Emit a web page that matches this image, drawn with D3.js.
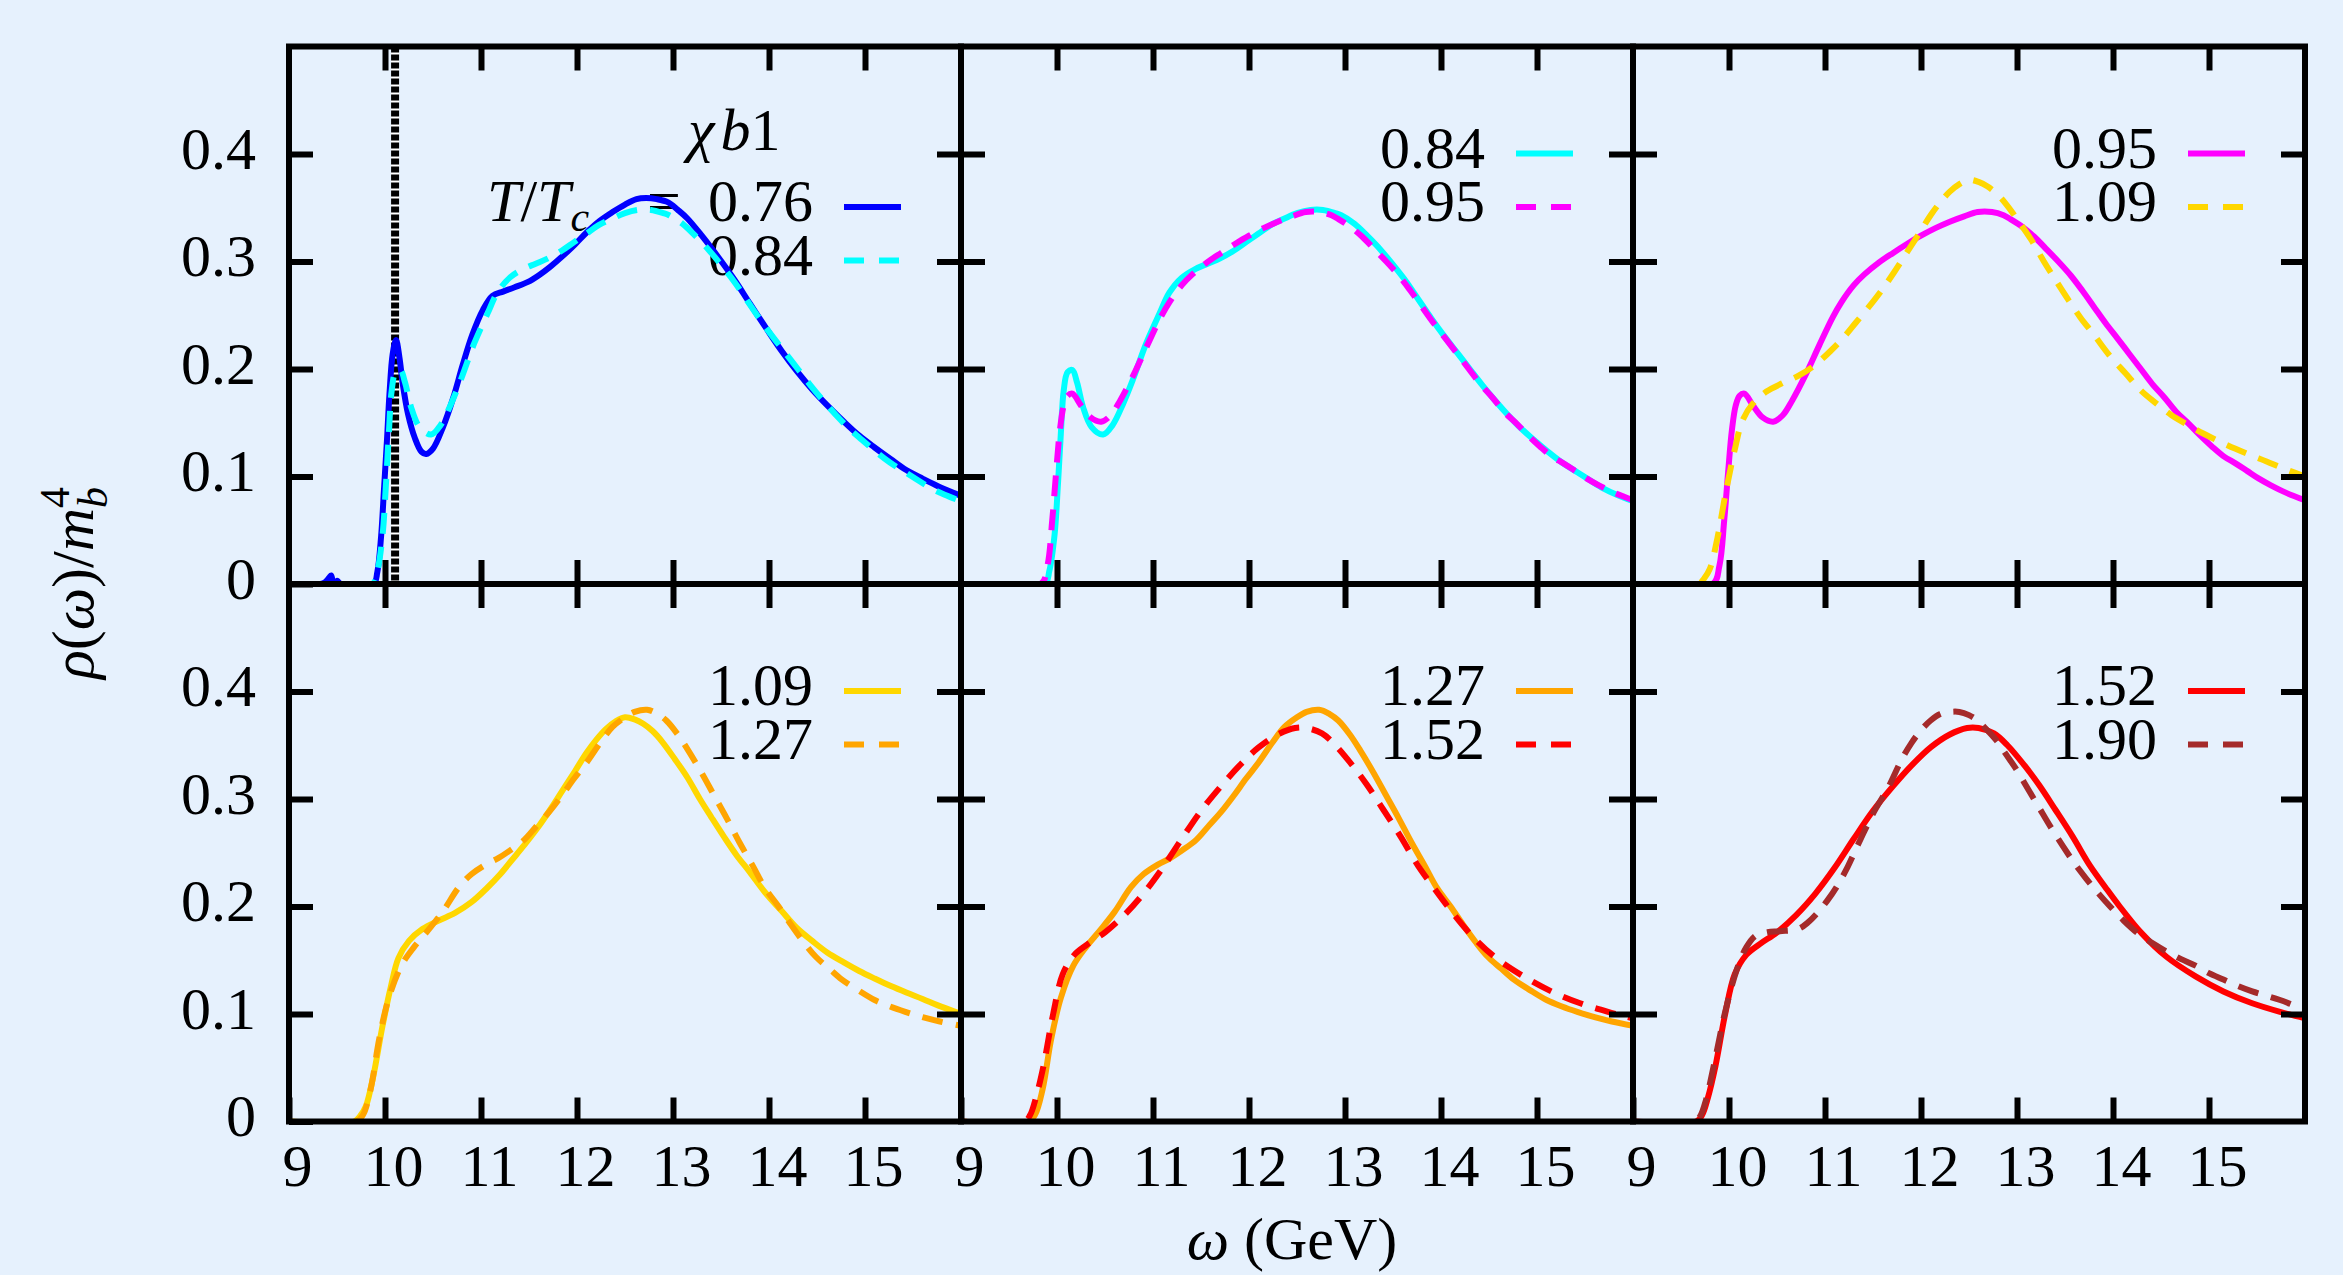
<!DOCTYPE html>
<html><head><meta charset="utf-8">
<script src="https://cdn.jsdelivr.net/npm/d3@7"></script>
<style>
html,body{margin:0;padding:0;background:#e6f1fd;}
svg{display:block;}
</style>
</head><body>
<svg id="chart" width="2343" height="1275"></svg>
<script>
// ---------------- DATA ----------------
const temperatures = ["0.76", "0.84", "0.95", "1.09", "1.27", "1.52", "1.90"];
const panelSolid  = ["0.76", "0.84", "0.95", "1.09", "1.27", "1.52"];
const panelDashed = ["0.84", "0.95", "1.09", "1.27", "1.52", "1.90"];
const xTickValues = [9, 10, 11, 12, 13, 14, 15];
const xTickLabels = ["9", "10", "11", "12", "13", "14", "15"];
const yTickValues = [0, 0.1, 0.2, 0.3, 0.4];
const yTickLabels = ["0", "0.1", "0.2", "0.3", "0.4"];
const thresholdOmega = [10.105];

const rho076 = [[9.0,0],[9.33,0],[9.38,0.002],[9.42,0.006],[9.44,0.008],[9.46,-0.001],[9.48,-0.006],[9.5,0.003],[9.54,0],
 [9.88,0],[9.92,0.011],[9.96,0.045],[9.99,0.089],[10.02,0.133],[10.046,0.176],[10.08,0.214],[10.115,0.227],[10.15,0.211],
 [10.185,0.186],[10.24,0.158],[10.31,0.136],[10.38,0.123],[10.43,0.121],[10.5,0.126],[10.6,0.145],[10.71,0.173],[10.81,0.204],
 [10.91,0.232],[11.02,0.255],[11.12,0.268],[11.23,0.272],[11.35,0.276],[11.49,0.281],[11.6,0.287],[11.72,0.295],[11.85,0.305],
 [11.98,0.316],[12.1,0.327],[12.24,0.338],[12.37,0.346],[12.5,0.353],[12.62,0.358],[12.72,0.359],[12.83,0.358],[12.95,0.355],
 [13.05,0.348],[13.15,0.34],[13.3,0.324],[13.48,0.303],[13.64,0.283],[13.8,0.261],[13.97,0.238],[14.13,0.217],[14.29,0.198],
 [14.45,0.181],[14.62,0.165],[14.78,0.151],[14.94,0.138],[15.1,0.127],[15.27,0.116],[15.43,0.106],[15.6,0.098],[15.76,0.091],[16.0,0.082]];
const rho084 = [[9.0,0],[9.87,0],[9.92,0.012],[9.975,0.046],[10.01,0.093],[10.04,0.14],[10.07,0.18],[10.11,0.197],[10.16,0.199],
 [10.21,0.187],[10.27,0.165],[10.36,0.146],[10.48,0.139],[10.58,0.148],[10.69,0.168],[10.79,0.19],[10.93,0.224],[11.07,0.252],
 [11.17,0.271],[11.3,0.285],[11.44,0.293],[11.57,0.298],[11.7,0.303],[11.84,0.31],[11.97,0.318],[12.1,0.326],[12.23,0.334],
 [12.37,0.34],[12.5,0.345],[12.64,0.348],[12.77,0.348],[12.9,0.345],[12.96,0.343],[13.1,0.335],[13.23,0.324],[13.37,0.311],
 [13.5,0.297],[13.64,0.281],[13.77,0.264],[13.9,0.247],[14.03,0.231],[14.17,0.215],[14.3,0.2],[14.43,0.185],[14.57,0.17],
 [14.7,0.157],[14.83,0.145],[14.97,0.134],[15.1,0.124],[15.26,0.113],[15.42,0.104],[15.56,0.096],[15.69,0.089],[15.83,0.083],[16.0,0.077]];
const rho095 = [[9.0,0],[9.83,0],[9.9,0.017],[9.95,0.059],[9.99,0.103],[10.03,0.143],[10.07,0.166],[10.11,0.175],[10.16,0.177],
 [10.25,0.166],[10.35,0.155],[10.46,0.151],[10.56,0.157],[10.66,0.171],[10.8,0.195],[10.94,0.222],[11.08,0.248],[11.17,0.262],
 [11.3,0.278],[11.41,0.288],[11.56,0.299],[11.71,0.308],[11.85,0.316],[12.0,0.324],[12.15,0.331],[12.3,0.337],[12.45,0.342],
 [12.59,0.346],[12.74,0.346],[12.86,0.343],[12.94,0.339],[13.06,0.332],[13.18,0.323],[13.3,0.312],[13.43,0.3],[13.56,0.287],
 [13.68,0.273],[13.8,0.258],[13.92,0.243],[14.05,0.228],[14.17,0.214],[14.29,0.2],[14.41,0.186],[14.54,0.173],[14.66,0.16],
 [14.79,0.149],[14.91,0.138],[15.03,0.128],[15.15,0.119],[15.28,0.112],[15.4,0.105],[15.52,0.098],[15.64,0.092],[15.8,0.085],[16.0,0.078]];
const rho109 = [[9.0,0],[9.68,0],[9.74,0.005],[9.8,0.014],[9.88,0.043],[9.97,0.087],[10.06,0.125],[10.14,0.152],[10.25,0.168],
 [10.39,0.179],[10.56,0.187],[10.73,0.194],[10.9,0.204],[11.06,0.217],[11.2,0.23],[11.32,0.243],[11.45,0.257],[11.58,0.272],
 [11.72,0.29],[11.85,0.308],[11.98,0.326],[12.1,0.343],[12.2,0.355],[12.3,0.365],[12.4,0.372],[12.5,0.376],[12.6,0.374],
 [12.69,0.37],[12.79,0.363],[12.89,0.353],[13.02,0.337],[13.15,0.32],[13.28,0.3],[13.4,0.283],[13.53,0.265],[13.66,0.248],
 [13.8,0.232],[13.96,0.213],[14.13,0.196],[14.29,0.18],[14.45,0.168],[14.61,0.157],[14.78,0.148],[14.94,0.14],[15.1,0.133],
 [15.27,0.126],[15.43,0.12],[15.6,0.114],[15.76,0.108],[16.0,0.1]];
const rho127 = [[9.0,0],[9.7,0],[9.77,0.006],[9.85,0.03],[9.94,0.077],[10.04,0.115],[10.17,0.145],[10.3,0.162],[10.45,0.178],
 [10.6,0.195],[10.77,0.218],[10.9,0.23],[11.05,0.239],[11.18,0.245],[11.3,0.252],[11.45,0.262],[11.58,0.275],[11.71,0.288],
 [11.84,0.303],[11.97,0.319],[12.1,0.334],[12.24,0.352],[12.37,0.367],[12.5,0.376],[12.6,0.381],[12.73,0.383],[12.84,0.379],
 [12.93,0.373],[13.05,0.36],[13.16,0.345],[13.3,0.324],[13.43,0.303],[13.56,0.282],[13.69,0.26],[13.83,0.238],[13.96,0.217],
 [14.1,0.2],[14.23,0.183],[14.36,0.167],[14.49,0.153],[14.63,0.142],[14.76,0.132],[14.93,0.122],[15.1,0.113],[15.26,0.107],
 [15.42,0.102],[15.6,0.097],[15.78,0.093],[16.0,0.089]];
const rho152 = [[9.0,0],[9.66,0],[9.72,0.006],[9.78,0.022],[9.86,0.052],[9.96,0.1],[10.06,0.137],[10.18,0.155],[10.32,0.165],
 [10.5,0.176],[10.7,0.192],[10.9,0.212],[11.1,0.236],[11.3,0.263],[11.5,0.289],[11.7,0.311],[11.9,0.331],[12.1,0.348],
 [12.3,0.36],[12.48,0.366],[12.6,0.366],[12.76,0.361],[12.9,0.35],[13.08,0.331],[13.23,0.313],[13.4,0.29],[13.58,0.265],
 [13.76,0.238],[13.92,0.218],[14.07,0.2],[14.3,0.175],[14.56,0.153],[14.86,0.135],[15.15,0.121],[15.45,0.11],[15.74,0.102],[16.0,0.096]];
const rho190 = [[9.0,0],[9.64,0],[9.7,0.005],[9.76,0.02],[9.86,0.06],[9.96,0.102],[10.08,0.141],[10.18,0.162],[10.28,0.173],
 [10.4,0.176],[10.53,0.177],[10.72,0.179],[10.82,0.185],[10.92,0.194],[11.02,0.205],[11.12,0.218],[11.22,0.234],[11.31,0.251],
 [11.41,0.27],[11.51,0.288],[11.66,0.311],[11.8,0.337],[11.9,0.352],[12.0,0.364],[12.1,0.373],[12.2,0.379],[12.3,0.381],
 [12.4,0.381],[12.5,0.378],[12.59,0.373],[12.69,0.364],[12.79,0.354],[12.89,0.341],[12.99,0.328],[13.11,0.31],[13.23,0.292],
 [13.35,0.274],[13.48,0.256],[13.6,0.24],[13.72,0.226],[13.85,0.212],[13.97,0.2],[14.11,0.187],[14.26,0.175],[14.41,0.166],
 [14.56,0.158],[14.71,0.151],[14.86,0.145],[15.0,0.138],[15.15,0.132],[15.3,0.126],[15.45,0.121],[15.6,0.117],[15.74,0.113],[16.0,0.104]];

const seriesByT = {"0.76": rho076, "0.84": rho084, "0.95": rho095, "1.09": rho109, "1.27": rho127, "1.52": rho152, "1.90": rho190};
const colorByT = {"0.76": "#0000ff", "0.84": "#00ffff", "0.95": "#ff00ff", "1.09": "#ffd700",
                  "1.27": "#ffa500", "1.52": "#ff0000", "1.90": "#a52a2a"};

// ---------------- LAYOUT ----------------
const W = 2343, H = 1275, BG = "#e6f1fd";
const FONT = "'Liberation Serif', 'Times New Roman', serif";
const FS = 60;
const plotLeft = 289, plotTop = 46.5, pw = 672, ph = 537.5;
const LW = 6, DASH = "21,13";

const svg = d3.select("#chart");
svg.append("rect").attr("width", W).attr("height", H).attr("fill", BG);
const defs = svg.append("defs");

for (let i = 0; i < 6; i++) {
  const c = i % 3, r = Math.floor(i / 3);
  const x0 = plotLeft + c * pw, y0 = plotTop + r * ph;
  const x = d3.scaleLinear().domain([9, 16]).range([x0, x0 + pw]);
  const y = d3.scaleLinear().domain([0, 0.5]).range([y0 + ph, y0]);
  const g = svg.append("g");

  defs.append("clipPath").attr("id", "clip" + i)
    .append("rect").attr("x", x0).attr("y", y0).attr("width", pw).attr("height", ph);

  // threshold dotted line (panel 1)
  if (i === 0) {
    thresholdOmega.forEach(w => {
      g.append("line").attr("x1", x(w)).attr("x2", x(w)).attr("y1", y(0.5)).attr("y2", y(0) + 3)
        .attr("stroke", "#ffffff").attr("stroke-width", 8);
      g.append("line").attr("x1", x(w)).attr("x2", x(w)).attr("y1", y(0.5)).attr("y2", y(0) + 3)
        .attr("stroke", "#000000").attr("stroke-width", 8).attr("stroke-dasharray", "6,2");
    });
  }

  // legend
  const xr = x0 + pw;
  const sx1 = xr - 117, sx2 = xr - 60, tx = xr - 148;
  const rowY = (i === 0) ? [y0 + 160.5, y0 + 214] : [y0 + 107, y0 + 160.5];
  const leg = g.append("g").attr("font-family", FONT).attr("font-size", FS).attr("fill", "#000");
  if (i === 0) {
    const tt = leg.append("text").attr("x", 688).attr("y", y0 + 103.5);
    tt.append("tspan").attr("font-style", "italic").text("χ");
    tt.append("tspan").attr("font-style", "italic").attr("dx", 6).text("b");
    tt.append("tspan").text("1");
    const tl = leg.append("text").attr("x", 487).attr("y", rowY[0] + 14);
    tl.append("tspan").attr("font-style", "italic").text("T");
    tl.append("tspan").text("/");
    tl.append("tspan").attr("font-style", "italic").text("T");
    tl.append("tspan").attr("font-style", "italic").attr("font-size", 42).attr("dy", 10).text("c");
    leg.append("text").attr("x", 664).attr("y", rowY[0] + 14).attr("text-anchor", "middle").text("=");
  }
  [panelSolid[i], panelDashed[i]].forEach((t, k) => {
    leg.append("text").attr("x", tx).attr("y", rowY[k] + 14).attr("text-anchor", "end").text(t);
  });

  // curves
  const line = d3.line().x(d => x(d[0])).y(d => y(d[1])).curve(d3.curveCatmullRom.alpha(0.5));
  const cg = g.append("g").attr("clip-path", "url(#clip" + i + ")");
  cg.append("path").datum(seriesByT[panelSolid[i]]).attr("d", line)
    .attr("fill", "none").attr("stroke", colorByT[panelSolid[i]]).attr("stroke-width", LW)
    .attr("stroke-linejoin", "round");
  cg.append("path").datum(seriesByT[panelDashed[i]]).attr("d", line)
    .attr("fill", "none").attr("stroke", colorByT[panelDashed[i]]).attr("stroke-width", LW)
    .attr("stroke-dasharray", DASH);

  // legend samples
  g.append("line").attr("x1", sx1).attr("x2", sx2).attr("y1", rowY[0]).attr("y2", rowY[0])
    .attr("stroke", colorByT[panelSolid[i]]).attr("stroke-width", LW);
  g.append("line").attr("x1", sx1).attr("x2", sx2).attr("y1", rowY[1]).attr("y2", rowY[1])
    .attr("stroke", colorByT[panelDashed[i]]).attr("stroke-width", LW).attr("stroke-dasharray", "20,15");

  // frame
  g.append("rect").attr("x", x0).attr("y", y0).attr("width", pw).attr("height", ph)
    .attr("fill", "none").attr("stroke", "#000").attr("stroke-width", LW);

  const styleAxis = a => {
    a.select(".domain").remove();
    a.selectAll("line").attr("stroke", "#000").attr("stroke-width", LW);
    a.attr("font-family", FONT).attr("font-size", FS);
  };
  const innerX = xTickValues.filter(v => v > 9);
  const innerY = yTickValues.filter(v => v > 0);

  // bottom axis
  const bottomRow = r === 1;
  const axB = d3.axisBottom(x).tickValues(bottomRow ? xTickValues : innerX).tickSize(-24).tickSizeOuter(0)
    .tickFormat(bottomRow ? (d => xTickLabels[xTickValues.indexOf(d)]) : (() => ""));
  g.append("g").attr("transform", `translate(0,${y0 + ph})`).call(axB).call(styleAxis)
    .call(a => a.selectAll("text").attr("y", 64).attr("dy", null).attr("x", 8).attr("fill", "#000"));
  // top axis
  g.append("g").attr("transform", `translate(0,${y0})`)
    .call(d3.axisTop(x).tickValues(innerX).tickSize(-24).tickSizeOuter(0).tickFormat(() => ""))
    .call(styleAxis);
  // left axis
  const leftCol = c === 0;
  const axL = d3.axisLeft(y).tickValues(leftCol ? yTickValues : innerY).tickSize(-24).tickSizeOuter(0)
    .tickFormat(leftCol ? (d => yTickLabels[yTickValues.indexOf(d)]) : (() => ""));
  g.append("g").attr("transform", `translate(${x0},0)`).call(axL).call(styleAxis)
    .call(a => a.selectAll("text").attr("x", -33).attr("dy", null).attr("y", 14).attr("fill", "#000"));
  // right axis
  g.append("g").attr("transform", `translate(${x0 + pw},0)`)
    .call(d3.axisRight(y).tickValues(innerY).tickSize(-24).tickSizeOuter(0).tickFormat(() => ""))
    .call(styleAxis);
}

// axis titles
const xt = svg.append("text").attr("x", 1292).attr("y", 1259).attr("text-anchor", "middle")
  .attr("font-family", FONT).attr("font-size", FS);
xt.append("tspan").attr("font-style", "italic").text("ω");
xt.append("tspan").text(" (GeV)");

const yt = svg.append("text").attr("transform", "translate(93,583) rotate(-90)").attr("text-anchor", "middle")
  .attr("font-family", FONT).attr("font-size", FS);
yt.append("tspan").attr("font-style", "italic").text("ρ");
yt.append("tspan").text("(");
yt.append("tspan").attr("font-style", "italic").text("ω");
yt.append("tspan").text(")/");
yt.append("tspan").attr("font-style", "italic").text("m");
yt.append("tspan").attr("font-size", 42).attr("dy", -24).text("4");
yt.append("tspan").attr("font-size", 42).attr("font-style", "italic").attr("dx", -21).attr("dy", 38).text("b");
</script>
</body></html>
